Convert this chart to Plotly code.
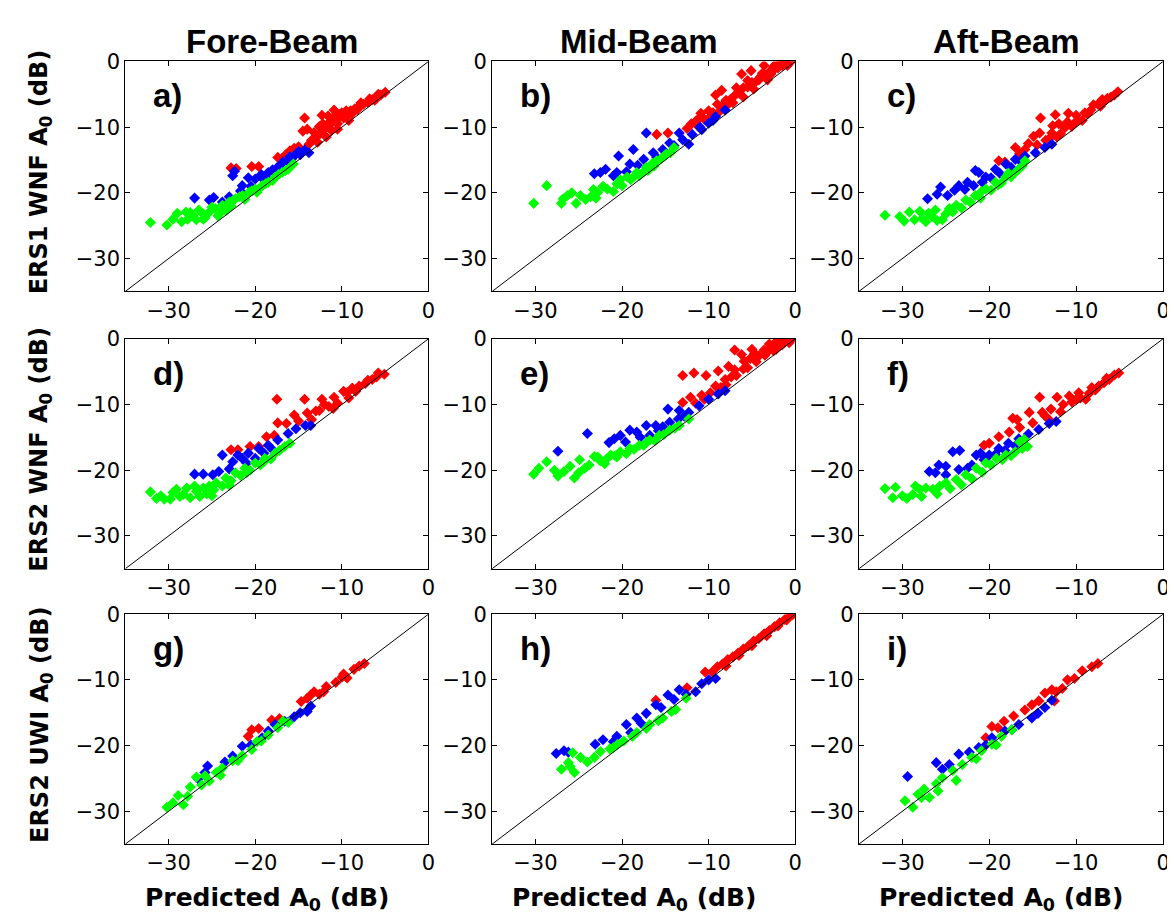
import plotly.graph_objects as go

# ---------------- chart data ----------------
AXIS_MIN, AXIS_MAX = -35, 0
TICKS = [-30, -20, -10, 0]
COLUMN_TITLES = ["Fore-Beam", "Mid-Beam", "Aft-Beam"]
ROW_LABELS = ["ERS1 WNF A<sub>0</sub> (dB)", "ERS2 WNF A<sub>0</sub> (dB)", "ERS2 UWI A<sub>0</sub> (dB)"]
X_LABEL = "Predicted A<sub>0</sub> (dB)"
PANEL_LETTERS = ["a)", "b)", "c)", "d)", "e)", "f)", "g)", "h)", "i)"]

# (predicted, observed) pairs in dB
A_RED = [(-22.8, -16.2), (-22.2, -16.3), (-20.4, -16.0), (-19.6, -16.0), (-17.4, -14.6), (-16.5, -14.2),
         (-16.0, -13.6), (-15.5, -13.2), (-15.0, -13.0), (-14.3, -8.6), (-14.5, -10.6), (-14.0, -10.3),
         (-12.3, -8.2), (-13.5, -12.0), (-13.0, -11.5), (-12.5, -11.0), (-12.0, -10.2), (-11.5, -9.8),
         (-11.2, -10.5), (-11.0, -8.5), (-10.8, -9.0), (-10.5, -9.5), (-10.2, -8.0), (-10.0, -7.8),
         (-9.8, -8.6), (-9.5, -7.5), (-9.0, -7.5), (-8.5, -7.2), (-8.0, -6.8), (-7.5, -6.5), (-7.0, -6.2),
         (-6.5, -5.8), (-6.0, -5.5), (-5.5, -5.1), (-5.0, -4.7), (-12.8, -12.3), (-11.8, -11.5),
         (-10.5, -10.3), (-9.2, -9.0), (-12.2, -9.5), (-11.6, -8.3), (-10.9, -7.4), (-13.2, -10.8),
         (-9.6, -8.0), (-8.8, -7.9), (-8.2, -7.3), (-7.8, -6.3), (-6.8, -5.7), (-6.2, -5.9), (-5.8, -5.0),
         (-14.8, -13.6), (-13.8, -12.6), (-12.6, -9.9), (-11.4, -9.2), (-10.4, -8.6), (-15.8, -14.3)]
A_BLUE = [(-27.0, -20.8), (-25.3, -21.1), (-24.8, -20.7), (-23.8, -21.4), (-22.6, -17.4), (-22.4, -16.7),
          (-21.5, -18.9), (-20.8, -17.7), (-20.0, -17.9), (-19.3, -17.2), (-18.5, -16.9), (-18.0, -16.5),
          (-17.0, -15.6), (-16.3, -15.1), (-15.5, -14.4), (-14.8, -14.2), (-13.8, -13.9), (-14.3, -13.5),
          (-15.0, -13.7), (-16.0, -14.5), (-17.5, -16.2), (-19.0, -18.0), (-20.5, -19.0), (-21.7, -19.7),
          (-23.0, -20.6), (-18.8, -17.5), (-17.8, -16.8), (-16.8, -15.3), (-15.8, -14.8)]
A_GREEN = [(-32.1, -24.5), (-30.2, -24.9), (-29.0, -23.1), (-28.5, -24.4), (-28.0, -22.9), (-27.2, -23.4),
           (-26.8, -24.1), (-26.1, -23.1), (-25.3, -22.9), (-24.6, -22.4), (-23.8, -21.9), (-23.0, -21.4),
           (-22.3, -20.9), (-21.5, -20.4), (-20.7, -19.9), (-20.0, -19.4), (-19.2, -18.9), (-18.5, -18.4),
           (-17.7, -17.6), (-16.9, -16.9), (-16.2, -16.4), (-15.6, -15.6), (-26.5, -22.6), (-25.8, -23.8),
           (-24.0, -23.0), (-22.8, -22.0), (-21.2, -21.0), (-19.8, -19.9), (-18.0, -18.1), (-27.8, -24.0),
           (-29.5, -24.0), (-25.0, -22.2), (-24.3, -23.5), (-23.4, -22.7), (-22.6, -21.2), (-21.8, -20.6),
           (-20.4, -19.7), (-19.5, -19.3), (-18.8, -18.6), (-17.3, -17.2), (-16.5, -16.6), (-27.5, -23.0),
           (-26.0, -24.0)]

B_RED = [(-16.0, -11.1), (-14.7, -10.9), (-9.2, -5.1), (-10.9, -7.9), (-11.5, -9.1), (-8.5, -4.4),
         (-6.2, -1.9), (-5.5, -2.9), (-5.1, -1.4), (-3.6, -0.6), (-2.5, -0.8), (-1.8, -0.4), (-0.6, 0.0),
         (-12.0, -9.5), (-11.0, -8.5), (-10.0, -7.5), (-9.5, -7.8), (-9.0, -6.5), (-8.5, -6.8), (-8.0, -5.9),
         (-7.5, -5.8), (-7.0, -5.2), (-6.5, -4.8), (-6.0, -4.0), (-5.5, -3.9), (-5.0, -3.2), (-4.5, -3.0),
         (-4.0, -2.3), (-3.5, -2.1), (-3.0, -1.6), (-2.5, -1.3), (-2.0, -1.0), (-1.5, -0.6), (-1.0, -0.3),
         (-0.5, 0.0), (-7.2, -6.3), (-6.0, -5.4), (-4.8, -4.2), (-3.2, -2.8), (-8.8, -7.7), (-10.5, -8.8),
         (-2.3, -0.5), (-1.2, 0.0), (-4.2, -2.8), (-3.8, -1.8), (-2.8, -1.9), (-1.6, -0.2), (-0.9, -0.6),
         (-6.8, -4.0), (-7.8, -6.6), (-9.8, -8.4), (-11.2, -9.9), (-12.5, -10.2)]
B_BLUE = [(-17.2, -10.9), (-18.7, -13.4), (-20.4, -14.4), (-23.2, -17.1), (-21.9, -16.4), (-20.6, -16.9),
          (-19.1, -15.6), (-17.5, -14.9), (-16.4, -13.9), (-15.3, -13.4), (-14.5, -12.4), (-13.4, -10.9),
          (-13.0, -11.9), (-11.9, -11.1), (-10.8, -10.4), (-9.2, -8.4), (-8.1, -7.4), (-12.3, -12.6),
          (-14.0, -12.8), (-16.0, -14.6), (-18.2, -15.8), (-19.5, -16.8), (-15.0, -14.2), (-11.0, -10.0),
          (-10.0, -9.4), (-9.5, -9.0), (-22.5, -16.9), (-21.0, -17.4)]
B_GREEN = [(-30.2, -21.6), (-28.7, -18.9), (-27.0, -21.6), (-26.3, -20.4), (-25.3, -21.6), (-24.8, -20.4),
           (-23.6, -20.6), (-22.8, -19.9), (-21.7, -19.4), (-20.6, -18.6), (-19.4, -17.6), (-18.3, -16.9),
           (-17.2, -16.1), (-16.0, -15.1), (-14.9, -14.1), (-14.0, -13.1), (-25.8, -20.0), (-24.2, -21.0),
           (-23.0, -20.8), (-22.2, -19.0), (-21.0, -19.8), (-20.0, -18.9), (-19.0, -18.0), (-18.0, -17.4),
           (-17.0, -16.6), (-16.5, -15.5), (-15.5, -14.8), (-26.8, -20.9), (-20.2, -18.0), (-18.6, -17.5),
           (-17.6, -16.9), (-16.3, -15.9), (-15.2, -14.5), (-14.4, -13.9), (-23.3, -19.5)]

C_RED = [(-14.1, -8.6), (-12.4, -8.1), (-10.9, -7.9), (-17.0, -13.1), (-18.9, -15.1), (-18.2, -15.3),
         (-15.9, -13.4), (-14.9, -11.4), (-14.2, -10.9), (-12.8, -10.9), (-11.3, -10.1), (-9.8, -8.9),
         (-8.3, -7.4), (-6.8, -6.1), (-6.0, -5.4), (-5.2, -4.6), (-13.5, -12.0), (-12.0, -9.5), (-11.0, -9.2),
         (-10.0, -8.2), (-9.0, -7.8), (-8.0, -6.6), (-7.5, -6.5), (-7.0, -5.8), (-16.5, -14.0), (-15.5, -12.5),
         (-13.0, -11.6), (-11.8, -11.0), (-10.5, -9.9), (-9.3, -9.0), (-12.7, -9.8), (-10.2, -9.4),
         (-8.7, -8.0), (-7.2, -6.8), (-6.4, -5.6), (-5.6, -5.1), (-14.5, -12.7), (-12.2, -11.5)]
C_BLUE = [(-27.1, -20.9), (-25.6, -19.1), (-24.8, -20.4), (-23.5, -18.9), (-22.5, -18.4), (-21.6, -16.6),
          (-21.2, -16.9), (-20.4, -17.6), (-19.3, -16.4), (-18.1, -15.6), (-17.0, -14.9), (-15.9, -14.4),
          (-14.7, -13.9), (-13.6, -13.1), (-12.8, -12.6), (-26.0, -20.2), (-24.0, -19.6), (-22.8, -19.5),
          (-21.8, -18.9), (-20.8, -18.4), (-19.8, -17.7), (-18.8, -17.0), (-17.5, -16.1), (-16.4, -15.2)]
C_GREEN = [(-32.0, -23.4), (-30.3, -23.6), (-29.2, -22.9), (-28.6, -24.1), (-27.7, -23.9), (-27.0, -23.1),
           (-26.2, -22.6), (-25.4, -24.1), (-24.6, -22.4), (-23.8, -21.9), (-22.7, -21.1), (-21.6, -20.4),
           (-20.4, -19.4), (-19.3, -18.4), (-18.1, -17.6), (-17.0, -16.9), (-16.2, -15.9), (-15.9, -15.1),
           (-28.0, -22.8), (-26.6, -23.6), (-25.0, -23.2), (-24.2, -22.9), (-23.2, -22.3), (-22.2, -21.4),
           (-21.0, -20.8), (-19.8, -19.6), (-18.6, -18.5), (-17.5, -17.6), (-29.8, -24.3), (-27.3, -24.4),
           (-26.0, -24.2), (-20.9, -19.8), (-19.0, -18.8), (-17.8, -17.0), (-16.7, -16.5)]

D_RED = [(-17.5, -9.2), (-14.3, -9.2), (-12.3, -9.2), (-15.5, -11.6), (-14.0, -11.3), (-17.4, -12.8),
         (-16.4, -12.9), (-18.7, -14.9), (-17.8, -14.7), (-22.8, -16.9), (-22.0, -16.9), (-20.6, -16.4),
         (-19.6, -16.4), (-13.0, -11.0), (-12.0, -10.0), (-10.9, -8.9), (-9.4, -8.2), (-8.0, -7.2),
         (-6.5, -6.2), (-5.1, -5.4), (-11.5, -10.3), (-10.5, -9.8), (-9.8, -8.0), (-8.8, -7.5), (-7.3, -6.8),
         (-6.0, -5.8), (-13.5, -12.3), (-15.0, -12.5), (-11.0, -10.6), (-9.2, -9.0), (-8.4, -8.0),
         (-7.0, -6.3), (-5.8, -5.2), (-12.6, -10.9)]
D_BLUE = [(-23.8, -17.7), (-27.0, -20.6), (-26.0, -20.6), (-24.9, -20.7), (-22.6, -18.7), (-22.0, -17.7),
          (-21.5, -18.2), (-24.2, -20.2), (-20.8, -17.4), (-19.6, -16.7), (-18.5, -16.2), (-17.4, -15.4),
          (-16.2, -14.4), (-15.3, -13.7), (-14.2, -13.2), (-13.6, -13.2), (-23.0, -19.8), (-21.0, -18.9),
          (-20.0, -18.2), (-19.0, -17.4), (-18.0, -16.9)]
D_GREEN = [(-32.1, -23.3), (-30.9, -23.9), (-30.5, -24.4), (-29.8, -24.4), (-29.1, -22.9), (-28.3, -23.7),
           (-27.5, -24.2), (-26.8, -23.2), (-26.0, -22.7), (-25.3, -22.4), (-24.5, -21.9), (-23.4, -21.2),
           (-22.3, -20.4), (-21.2, -19.7), (-20.0, -18.9), (-18.9, -18.2), (-17.7, -17.4), (-16.6, -16.4),
           (-16.0, -15.9), (-28.7, -24.0), (-27.0, -22.4), (-25.6, -23.6), (-24.8, -23.0), (-23.8, -22.4),
           (-22.8, -21.6), (-21.7, -20.8), (-20.6, -20.0), (-19.4, -19.2), (-18.2, -18.3), (-31.4, -24.3),
           (-29.5, -23.4), (-27.9, -22.7), (-26.4, -24.0), (-25.0, -23.9), (-23.0, -22.3), (-21.0, -20.4),
           (-19.0, -18.7), (-17.2, -17.0)]

E_RED = [(-13.0, -5.6), (-11.7, -5.2), (-10.3, -5.6), (-8.9, -4.9), (-7.0, -1.7), (-7.7, -4.2), (-13.0, -9.7),
         (-12.1, -8.9), (-10.8, -8.6), (-9.2, -7.2), (-8.1, -6.2), (-7.0, -4.7), (-5.9, -3.4), (-4.7, -2.2),
         (-3.6, -1.7), (-2.4, -0.7), (-1.3, -0.2), (-0.4, 0.0), (-6.2, -2.4), (-5.5, -4.4), (-4.5, -3.5),
         (-3.5, -2.5), (-2.5, -1.8), (-1.5, -0.9), (-6.8, -5.6), (-8.0, -7.0), (-9.8, -8.2), (-10.5, -9.2),
         (-11.5, -9.8), (-5.0, -1.6), (-2.0, -0.3), (-3.0, -0.8), (-1.0, -0.3), (-1.8, -0.8), (-2.8, -1.4),
         (-3.3, -2.1), (-4.2, -2.6), (-5.2, -3.0), (-6.0, -4.6), (-7.4, -5.8), (-8.6, -7.4), (-0.7, -0.6),
         (-2.2, -1.6)]
E_BLUE = [(-27.4, -17.1), (-24.0, -14.4), (-20.9, -15.2), (-20.2, -14.7), (-19.1, -13.9), (-18.3, -14.2),
          (-17.2, -13.2), (-16.1, -13.2), (-14.7, -10.7), (-13.4, -10.9), (-12.3, -11.2), (-11.1, -10.2),
          (-10.0, -9.2), (-8.9, -8.4), (-8.1, -7.9), (-19.6, -15.7), (-17.9, -15.0), (-16.8, -14.7),
          (-15.3, -13.4), (-14.5, -12.7), (-13.5, -12.2), (-12.8, -11.8), (-21.5, -15.8), (-15.8, -14.0)]
E_GREEN = [(-30.2, -20.6), (-29.6, -19.7), (-28.7, -18.7), (-27.4, -20.9), (-26.7, -20.2), (-25.5, -21.2),
           (-24.9, -18.4), (-24.3, -19.7), (-23.2, -17.9), (-22.5, -18.6), (-21.3, -17.7), (-20.2, -17.2),
           (-19.1, -16.7), (-18.0, -16.2), (-16.8, -15.4), (-15.7, -14.7), (-14.5, -13.9), (-13.4, -13.2),
           (-12.3, -12.2), (-26.0, -19.4), (-25.0, -20.4), (-23.8, -19.2), (-22.8, -18.0), (-21.8, -18.3),
           (-20.6, -18.0), (-19.5, -17.5), (-17.5, -16.2), (-16.2, -15.5), (-22.0, -19.0), (-20.8, -17.8),
           (-18.6, -16.8), (-17.2, -15.8), (-15.2, -14.6), (-13.9, -13.6), (-27.8, -20.0)]

F_RED = [(-14.2, -8.9), (-12.2, -8.9), (-17.3, -12.1), (-15.4, -11.2), (-13.9, -11.2), (-18.9, -14.9),
         (-20.6, -16.2), (-20.0, -15.9), (-17.7, -14.2), (-10.8, -8.7), (-9.7, -8.2), (-8.9, -9.2),
         (-7.4, -7.2), (-6.2, -6.2), (-5.1, -5.2), (-12.9, -10.7), (-11.5, -10.0), (-10.5, -9.6), (-9.5, -9.0),
         (-8.5, -8.3), (-7.8, -7.8), (-6.8, -6.7), (-16.5, -13.5), (-15.0, -12.8), (-13.2, -12.2),
         (-11.8, -11.1), (-16.8, -12.3), (-8.2, -7.4), (-6.5, -6.0), (-5.6, -5.5), (-10.0, -9.2),
         (-13.6, -11.7)]
F_BLUE = [(-26.9, -20.2), (-26.2, -20.4), (-25.0, -19.4), (-24.2, -17.2), (-23.4, -17.0), (-22.5, -19.7),
          (-21.5, -17.7), (-21.0, -17.4), (-20.0, -17.7), (-18.9, -16.7), (-17.8, -15.9), (-16.6, -15.2),
          (-15.5, -14.5), (-14.3, -13.8), (-13.1, -12.9), (-12.3, -12.6), (-25.0, -20.7), (-23.5, -19.9),
          (-22.0, -19.2), (-20.6, -18.4), (-19.3, -17.6), (-18.2, -17.0), (-17.0, -16.3), (-25.8, -19.2)]
F_GREEN = [(-32.0, -22.8), (-30.8, -22.6), (-31.1, -24.2), (-30.0, -23.9), (-28.8, -23.7), (-28.0, -22.9),
           (-27.3, -22.7), (-26.5, -22.9), (-25.7, -22.4), (-25.0, -21.9), (-23.8, -21.4), (-22.7, -20.7),
           (-21.5, -19.7), (-20.4, -18.9), (-19.2, -18.2), (-18.1, -17.7), (-17.0, -17.2), (-16.2, -16.7),
           (-15.6, -16.4), (-16.5, -15.7), (-29.5, -24.3), (-27.8, -24.0), (-26.0, -23.6), (-24.5, -22.8),
           (-23.2, -22.2), (-22.0, -21.3), (-20.8, -20.3), (-19.8, -19.2), (-18.5, -18.4), (-17.5, -17.8),
           (-16.0, -15.3), (-28.5, -22.4)]

G_RED = [(-7.4, -7.5), (-8.0, -7.9), (-8.6, -8.4), (-9.4, -9.7), (-10.0, -9.6), (-9.8, -9.1), (-13.2, -11.8),
         (-13.6, -12.3), (-12.1, -11.8), (-11.8, -11.0), (-14.7, -13.3), (-14.0, -12.8), (-18.1, -16.1),
         (-17.2, -15.9), (-20.4, -17.6), (-19.6, -17.4), (-20.8, -18.6), (-12.6, -12.2), (-10.7, -10.4)]
G_BLUE = [(-25.5, -23.1), (-25.8, -24.1), (-26.6, -25.1), (-22.6, -21.6), (-21.5, -20.1), (-19.2, -18.8),
          (-17.7, -16.8), (-16.6, -16.3), (-15.5, -15.6), (-14.8, -15.0), (-14.0, -14.8), (-16.2, -16.4),
          (-13.6, -14.0), (-18.5, -17.8), (-23.5, -22.5), (-20.5, -19.9)]
G_GREEN = [(-30.2, -29.4), (-29.5, -28.7), (-28.9, -27.6), (-28.3, -29.0), (-27.5, -26.3), (-26.8, -24.8),
           (-26.2, -26.0), (-25.3, -25.4), (-24.5, -24.1), (-23.8, -23.4), (-22.6, -22.3), (-21.5, -21.5),
           (-20.4, -20.6), (-19.3, -19.3), (-18.5, -18.4), (-17.4, -17.3), (-16.2, -16.5), (-16.8, -16.3),
           (-19.8, -19.4), (-22.0, -22.3), (-24.0, -24.5), (-27.8, -27.7), (-25.8, -24.6)]

H_RED = [(-10.4, -8.8), (-9.6, -8.8), (-9.0, -8.0), (-8.4, -7.6), (-7.8, -6.9), (-7.2, -6.5), (-6.6, -5.9),
         (-6.0, -5.3), (-5.4, -4.8), (-4.8, -4.1), (-4.2, -3.7), (-3.6, -3.0), (-3.0, -2.5), (-2.4, -1.9),
         (-1.8, -1.3), (-1.2, -0.8), (-0.6, -0.2), (-0.3, -0.1), (-16.1, -13.1), (-8.0, -7.9), (-6.5, -6.3),
         (-5.0, -4.8), (-3.3, -3.3), (-2.0, -1.8), (-1.0, -0.9), (-12.5, -11.2)]
H_BLUE = [(-27.6, -21.2), (-26.7, -20.8), (-26.2, -21.0), (-23.1, -19.8), (-22.2, -19.1), (-20.6, -18.6),
          (-19.5, -16.8), (-18.3, -15.8), (-17.2, -15.1), (-16.1, -13.8), (-14.7, -12.3), (-13.4, -11.5),
          (-11.5, -11.8), (-10.0, -10.0), (-9.2, -9.8), (-10.8, -10.6), (-12.6, -12.2), (-14.0, -13.0),
          (-15.5, -14.2), (-17.8, -16.6), (-21.0, -19.4), (-19.0, -18.0)]
H_GREEN = [(-27.0, -23.6), (-26.2, -22.6), (-25.5, -24.1), (-25.7, -21.1), (-24.8, -21.8), (-24.0, -22.5),
           (-23.2, -21.8), (-22.5, -20.9), (-21.4, -20.5), (-19.8, -19.3), (-18.3, -18.0), (-16.8, -16.8),
           (-15.3, -15.8), (-13.8, -14.5), (-12.6, -12.8), (-26.0, -23.2), (-21.0, -20.3), (-18.8, -18.6),
           (-17.2, -17.4), (-15.8, -16.2), (-14.3, -14.8), (-20.5, -19.8)]

I_RED = [(-7.5, -7.5), (-8.2, -8.0), (-9.3, -8.6), (-10.2, -9.8), (-11.0, -10.0), (-12.8, -11.5),
         (-12.3, -11.8), (-13.6, -12.0), (-12.5, -13.2), (-15.1, -13.8), (-15.9, -14.6), (-17.2, -15.5),
         (-19.7, -17.1), (-19.0, -17.3), (-18.3, -16.3), (-20.4, -18.8), (-14.3, -13.2), (-11.6, -11.3)]
I_BLUE = [(-29.4, -24.7), (-26.1, -22.6), (-25.4, -23.6), (-24.6, -22.9), (-23.5, -21.3), (-22.3, -21.0),
          (-21.2, -20.3), (-19.7, -18.8), (-18.2, -17.8), (-16.6, -16.8), (-15.1, -15.8), (-14.4, -15.1),
          (-12.8, -13.1), (-13.6, -14.2), (-17.4, -17.6), (-20.4, -19.9)]
I_GREEN = [(-29.7, -28.4), (-28.8, -29.4), (-28.2, -27.4), (-27.5, -26.6), (-26.9, -27.9), (-26.1, -25.8),
           (-25.4, -24.9), (-24.2, -23.8), (-23.1, -22.9), (-22.0, -21.8), (-20.9, -20.8), (-19.7, -19.8),
           (-18.6, -18.6), (-17.4, -17.6), (-23.8, -25.3), (-25.9, -26.9), (-21.5, -22.0), (-19.2, -19.9),
           (-27.8, -27.9)]

PANELS = [
    (A_RED, A_BLUE, A_GREEN), (B_RED, B_BLUE, B_GREEN), (C_RED, C_BLUE, C_GREEN),
    (D_RED, D_BLUE, D_GREEN), (E_RED, E_BLUE, E_GREEN), (F_RED, F_BLUE, F_GREEN),
    (G_RED, G_BLUE, G_GREEN), (H_RED, H_BLUE, H_GREEN), (I_RED, I_BLUE, I_GREEN),
]
SERIES_COLORS = ["#ff0000", "#0000ff", "#00ff00"]

# ---------------- layout ----------------
W, H = 1175, 922
COL_PX = [(118, 423), (487, 792), (856, 1162)]
ROW_PX = [(42, 275), (323, 556), (602, 835)]
TICK_FONT = dict(family="DejaVu Sans", size=21, color="black")
XLABEL_FONT = dict(family="DejaVu Sans", size=25, color="black", weight="bold")
YLABEL_FONT = dict(family="DejaVu Sans", size=24, color="black", weight="bold")

fig = go.Figure()
layout = dict(
    width=W, height=H, margin=dict(l=0, r=0, t=0, b=0),
    paper_bgcolor="white", plot_bgcolor="white", showlegend=False,
)
annotations = []

for i, series in enumerate(PANELS):
    r, c = divmod(i, 3)
    n = i + 1
    xref = "x" if n == 1 else f"x{n}"
    yref = "y" if n == 1 else f"y{n}"
    for pts, color in zip(series, SERIES_COLORS):
        fig.add_trace(go.Scatter(
            x=[p[0] for p in pts], y=[p[1] for p in pts], mode="markers",
            marker=dict(symbol="diamond", size=8.5, color=color, line=dict(width=0)),
            xaxis=xref, yaxis=yref, hoverinfo="skip"))
    fig.add_trace(go.Scatter(
        x=[AXIS_MIN, AXIS_MAX], y=[AXIS_MIN, AXIS_MAX], mode="lines",
        line=dict(color="black", width=1), xaxis=xref, yaxis=yref, hoverinfo="skip"))

    x0, x1 = COL_PX[c]
    y0, y1 = ROW_PX[r]
    common = dict(range=[AXIS_MIN, AXIS_MAX], tickvals=TICKS, ticks="inside", ticklen=5,
                  tickcolor="black", tickwidth=1, showline=True, linecolor="black", linewidth=1,
                  mirror="ticks", showgrid=False, zeroline=False, tickfont=TICK_FONT)
    layout["xaxis" if n == 1 else f"xaxis{n}"] = dict(domain=[x0 / W, x1 / W], anchor=yref, **common)
    layout["yaxis" if n == 1 else f"yaxis{n}"] = dict(domain=[1 - y1 / H, 1 - y0 / H], anchor=xref, **common)

    annotations.append(dict(
        text=PANEL_LETTERS[i], xref=f"{xref} domain", yref=f"{yref} domain",
        x=0.085, y=0.85, xanchor="left", yanchor="middle", showarrow=False,
        font=dict(family="Liberation Sans", size=33, color="black", weight="bold")))

for c, title in enumerate(COLUMN_TITLES):
    x0, x1 = COL_PX[c]
    annotations.append(dict(
        text=title, xref="paper", yref="paper", x=((x0 + x1) / 2 - 5) / W, y=1 - 22 / H,
        xanchor="center", yanchor="middle", showarrow=False,
        font=dict(family="Liberation Sans", size=33, color="black", weight="bold")))
    annotations.append(dict(
        text=X_LABEL, xref="paper", yref="paper", x=((x0 + x1) / 2 - 10) / W, y=1 - 891 / H,
        xanchor="center", yanchor="middle", showarrow=False, font=XLABEL_FONT))

for r, label in enumerate(ROW_LABELS):
    y0, y1 = ROW_PX[r]
    annotations.append(dict(
        text=label, xref="paper", yref="paper", x=33 / W, y=1 - ((y0 + y1) / 2 - 5) / H,
        xanchor="center", yanchor="middle", textangle=-90, showarrow=False, font=YLABEL_FONT))

layout["annotations"] = annotations
fig.update_layout(**layout)
fig.write_html("out.html")
